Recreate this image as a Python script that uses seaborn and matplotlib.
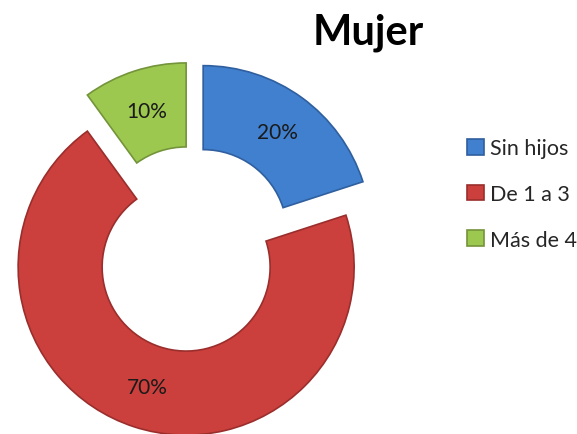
import matplotlib
matplotlib.use("Agg")
import matplotlib.pyplot as plt
import seaborn as sns

# data
categories = ["Sin hijos", "De 1 a 3", "Más de 4"]
shares = [20, 70, 10]
colors = ["#4080CE", "#CB403D", "#9DC84F"]
edge_colors = ["#2F5F9E", "#9A2E2C", "#73943A"]
title = "Mujer"

sns.set_theme(style="white")
plt.rcParams["font.family"] = ["Lato", "DejaVu Sans"]

fig = plt.figure(figsize=(5.77, 4.35), dpi=100)
ax = fig.add_axes([0, 0, 1, 1])

wedges, texts, autotexts = ax.pie(
    shares,
    colors=colors,
    startangle=90,
    counterclock=False,
    explode=[0.113] * len(shares),
    autopct="%1.0f%%",
    pctdistance=0.75,
    wedgeprops=dict(width=0.5, linewidth=1.2),
    textprops=dict(fontsize=15, color="#1a1a1a"),
)
for w, ec in zip(wedges, edge_colors):
    w.set_edgecolor(ec)

# 1 data unit = 168 px, pie centre near (192, 250) px from top-left
ax.set_xlim(-192 / 168, (577 - 192) / 168)
ax.set_ylim(-(435 - 250) / 168, 250 / 168)
ax.set_aspect("equal", adjustable="datalim")
ax.axis("off")

fig.text(368 / 577, 1 - 33 / 435, title, ha="center", va="center",
         fontsize=30, fontweight="bold", color="black")

leg = ax.legend(
    wedges, categories,
    loc="center left",
    bbox_to_anchor=(448 / 577, 1 - 195 / 435),
    bbox_transform=fig.transFigure,
    frameon=False,
    fontsize=15.5,
    handlelength=0.75,
    handleheight=0.75,
    handletextpad=0.3,
    labelspacing=1.2,
)

fig.savefig("out.png", dpi=100)
